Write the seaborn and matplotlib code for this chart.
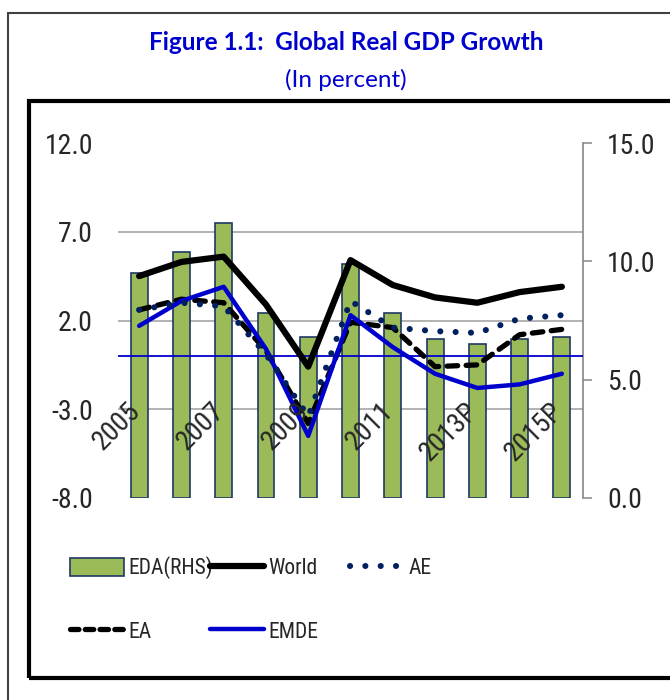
import os
import numpy as np
import matplotlib
matplotlib.use("Agg")
import matplotlib.pyplot as plt
import seaborn as sns
from matplotlib import font_manager
from matplotlib.font_manager import FontProperties
from matplotlib.patches import Patch, Rectangle
from matplotlib.lines import Line2D

# Dados
anos = ['2005', '2006', '2007', '2008', '2009', '2010', '2011', '2012', '2013P', '2014P', '2015P']
eda = [9.5, 10.4, 11.6, 7.8, 6.8, 9.9, 7.8, 6.7, 6.5, 6.7, 6.8]          # eixo direito
world = [4.5, 5.3, 5.6, 2.9, -0.6, 5.4, 4.0, 3.3, 3.0, 3.6, 3.9]
ae = [2.6, 3.0, 2.8, 0.1, -3.4, 3.1, 1.6, 1.4, 1.3, 2.1, 2.3]
ea = [2.6, 3.2, 3.0, 0.3, -3.8, 1.9, 1.6, -0.6, -0.5, 1.2, 1.5]
emde = [1.7, 3.1, 3.9, 0.4, -4.5, 2.3, 0.5, -1.0, -1.8, -1.6, -1.0]
ticks_esq = [-8.0, -3.0, 2.0, 7.0, 12.0]
ticks_dir = [0.0, 5.0, 10.0, 15.0]

# Estilo
sns.set_theme(style="white")
plt.rcParams['font.family'] = ['DejaVu Sans']


# Procura uma fonte estreita (parecida com a Calibri do original)
def fonte_estreita():
    prefs = ['liberationsansnarrow-regular', 'notosans-condensed.', 'robotocondensed-regular',
             'dejavusanscondensed.', 'notosans-semicondensed.', 'opensans-condensed']
    arquivos = [f.fname for f in font_manager.fontManager.ttflist]
    for p in prefs:
        for a in arquivos:
            if p in os.path.basename(a).lower():
                return a
    return None


arq = fonte_estreita()
if arq:
    fp_eixo = FontProperties(fname=arq, size=20)
    fp_leg = FontProperties(fname=arq, size=15.5)
else:
    fp_eixo = FontProperties(family='DejaVu Sans', stretch='condensed', size=16)
    fp_leg = FontProperties(family='DejaVu Sans', stretch='condensed', size=13)

verde = '#9BBB59'
borda = '#1F3864'
azul = '#0000CC'
marinho = '#002060'
cinza = '#A6A6A6'
texto = '#262626'
W, H = 670, 700

fig = plt.figure(figsize=(W / 100, H / 100), dpi=100)
ax_b = fig.add_axes([118 / W, 1 - 498 / H, (583 - 118) / W, 355 / H])
ax_l = ax_b.twinx()
ax_l.set_zorder(ax_b.get_zorder() + 1)
ax_l.patch.set_visible(False)

x = np.arange(len(anos))

# Barras EDA (eixo direito)
sns.barplot(x=anos, y=eda, ax=ax_b, color=verde, edgecolor=borda, linewidth=1.2,
            width=0.4, saturation=1)
ax_b.set_ylim(0, 15)
ax_b.set_xlim(-0.5, len(anos) - 0.5)

# Linhas (eixo esquerdo)
ax_l.axhline(0, color=azul, lw=1.3, zorder=1)
sns.lineplot(x=x, y=world, ax=ax_l, color='black', lw=4.5, legend=False, zorder=3)
sns.lineplot(x=x, y=emde, ax=ax_l, color=azul, lw=3.2, legend=False, zorder=4)
sns.lineplot(x=x, y=ea, ax=ax_l, color='black', lw=3.8, linestyle=(0, (2.0, 1.6)),
             dash_capstyle='round', legend=False, zorder=3)
sns.lineplot(x=x, y=ae, ax=ax_l, color=marinho, lw=4.4, linestyle=(0, (0.01, 2.5)),
             dash_capstyle='round', legend=False, zorder=5)
ax_l.set_ylim(-8, 12)
ax_l.set_xlim(-0.5, len(anos) - 0.5)

# Eixos: esquerdo para linhas, direito para barras
ax_l.yaxis.tick_left()
ax_b.yaxis.tick_right()
ax_l.set_yticks(ticks_esq)
ax_l.set_yticklabels([f'{t:.1f}' for t in ticks_esq])
ax_b.set_yticks(ticks_dir)
ax_b.set_yticklabels([f'{t:.1f}' for t in ticks_dir])
ax_l.tick_params(axis='y', length=0, pad=18, colors=texto)
ax_b.tick_params(axis='y', which='major', length=6.5, width=1.1, color='#868686',
                 pad=11, labelcolor=texto, right=True, left=False)
for lbl in ax_l.get_yticklabels() + ax_b.get_yticklabels():
    lbl.set_fontproperties(fp_eixo)

# Grade horizontal (valores do eixo esquerdo) atrás das barras
lo, hi = ax_l.get_ylim()
grade = [(t - lo) / (hi - lo) * 15 for t in ticks_esq]
ax_b.set_yticks(grade, minor=True)
ax_b.tick_params(axis='y', which='minor', length=0)
ax_b.grid(False)
ax_l.grid(False)
ax_b.grid(True, which='minor', axis='y', color=cinza, lw=1.2)
ax_b.set_axisbelow(True)

ax_b.set_xticks([])
ax_l.set_xticks([])
ax_b.set_xlabel('')
ax_l.set_xlabel('')
for s in ax_l.spines.values():
    s.set_visible(False)
for nome, s in ax_b.spines.items():
    s.set_visible(nome == 'right')
ax_b.spines['right'].set_color('#868686')
ax_b.spines['right'].set_linewidth(1.2)

# Rótulos das categorias (um sim, um não), rodados a 45°
for i, ano in enumerate(anos):
    if i % 2 == 0:
        ax_l.text(i + 0.15, -2.35, ano, rotation=45, ha='right', va='top',
                  fontproperties=fp_eixo, color=texto, zorder=6)

# Títulos
fig.text(346 / W, 1 - 42 / H, 'Figure 1.1:  Global Real GDP Growth', ha='center', va='center',
         fontsize=17.5, fontweight='bold', color=azul, family=['Lato', 'DejaVu Sans'])
fig.text(346 / W, 1 - 80 / H, '(In percent)', ha='center', va='center',
         fontsize=17.5, color=azul, family=['Lato', 'DejaVu Sans'])

# Molduras
fig.add_artist(Rectangle((8 / W, -0.1), 1, 1.1 - 13 / H, transform=fig.transFigure,
                         fill=False, edgecolor='#404040', lw=1.5))
fig.add_artist(Rectangle((29 / W, 1 - 678 / H), 1, (678 - 101) / H, transform=fig.transFigure,
                         fill=False, edgecolor='black', lw=3))

# Legenda (cada entrada posicionada)
entradas = [
    (Patch(facecolor=verde, edgecolor=borda, lw=1.2), 'EDA(RHS)', 70, 568),
    (Line2D([], [], color='black', lw=4.5), 'World', 210, 568),
    (Line2D([], [], color=marinho, lw=4.4, linestyle=(0, (0.01, 2.5)), dash_capstyle='round'), 'AE', 350, 568),
    (Line2D([], [], color='black', lw=3.8, linestyle=(0, (1.6, 1.2)), dash_capstyle='round'), 'EA', 70, 632),
    (Line2D([], [], color=azul, lw=3.2), 'EMDE', 210, 632),
]
for h, rot, px, py in entradas:
    leg = fig.legend(handles=[h], labels=[rot], loc='center left', bbox_to_anchor=(px / W, 1 - py / H),
                     frameon=False, borderpad=0, borderaxespad=0, handlelength=2.5, handleheight=0.95,
                     handletextpad=0.22, prop=fp_leg)
    for t in leg.get_texts():
        t.set_color(texto)

plt.savefig('out.png', dpi=100)
